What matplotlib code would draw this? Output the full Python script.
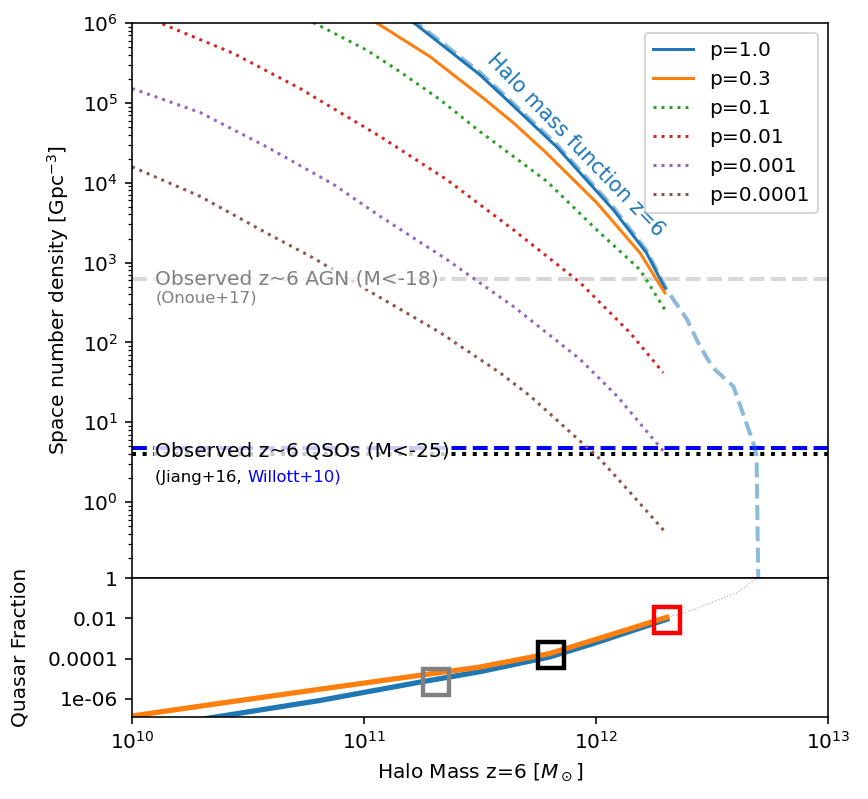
import numpy as np
import matplotlib
matplotlib.use('Agg')
import matplotlib.pyplot as plt
from matplotlib.ticker import NullLocator

# values, log10 units
# top panel: space number density [Gpc^-3] vs halo mass
lm_p1 = [11.20, 11.227, 11.356, 11.5, 11.615, 11.83, 12.075, 12.218, 12.297]
ln_p1 = [6.03, 5.975, 5.68, 5.35, 5.04, 4.45, 3.66, 3.12, 2.68]

lm_p03 = [11.03, 11.069, 11.284, 11.514, 11.644, 11.787, 12.003, 12.19, 12.297]
ln_p03 = [6.04, 5.975, 5.58, 5.06, 4.75, 4.37, 3.75, 3.12, 2.62]

lm_p01 = [10.75, 10.803, 11.012, 11.155, 11.328, 11.5, 11.787, 12.003, 12.19, 12.297]
ln_p01 = [6.05, 5.975, 5.66, 5.39, 5.04, 4.64, 4.02, 3.41, 2.91, 2.41]

lm_p001 = [10.10, 10.142, 10.437, 10.724, 11.069, 11.356, 11.644, 11.931, 12.147, 12.29]
ln_p001 = [6.03, 5.975, 5.62, 5.18, 4.58, 4.04, 3.41, 2.75, 2.12, 1.62]

lm_p0001 = [10.0, 10.293, 10.58, 10.868, 11.069, 11.356, 11.644, 11.931, 12.09, 12.29]
ln_p0001 = [5.18, 4.88, 4.45, 3.98, 3.58, 3.04, 2.45, 1.79, 1.33, 0.64]

lm_p00001 = [10.0, 10.293, 10.58, 10.78, 11.012, 11.33, 11.586, 11.716, 12.017, 12.16, 12.297]
ln_p00001 = [4.20, 3.83, 3.37, 3.06, 2.66, 2.12, 1.62, 1.33, 0.54, 0.08, -0.37]

# halo mass function z=6
lm_hmf = [11.20, 11.227, 11.356, 11.5, 11.615, 11.83, 12.075, 12.218, 12.305,
          12.392, 12.448, 12.505, 12.592, 12.678, 12.692, 12.699, 12.70]
ln_hmf = [6.06, 6.0, 5.71, 5.38, 5.07, 4.48, 3.69, 3.15, 2.66,
          2.29, 1.95, 1.68, 1.45, 0.745, 0.58, -0.88, -1.2]

n_agn = 630.0     # Onoue+17
n_qso_w = 4.73    # Willott+10
n_qso_j = 3.98    # Jiang+16

# bottom panel: quasar fraction
lm_f1 = [10.25, 10.35, 10.81, 11.241, 11.5, 11.80, 11.99, 12.305]
lf_f1 = [-7.1, -6.92, -6.08, -5.17, -4.65, -3.92, -3.25, -2.05]
lm_f03 = [10.0, 10.379, 10.81, 11.241, 11.5, 11.80, 11.99, 12.305]
lf_f03 = [-6.85, -6.22, -5.52, -4.83, -4.42, -3.75, -3.08, -1.95]
lm_ratio = [12.305, 12.42, 12.563, 12.606, 12.685, 12.70]
lf_ratio = [-1.95, -1.58, -0.92, -0.75, -0.08, 0.02]

# marked points
lm_sq = [11.31, 11.805, 12.305]
lf_sq = [-5.17, -3.83, -2.08]
sq_colors = ['gray', 'black', 'red']

labels = ['p=1.0', 'p=0.3', 'p=0.1', 'p=0.01', 'p=0.001', 'p=0.0001']


def p10(a):
    return 10 ** np.array(a)


dpi = 144.67
fig = plt.figure(figsize=(868 / dpi, 799 / dpi), dpi=dpi)
ax = fig.add_axes([132 / 868, 1 - 578 / 799, 696 / 868, 555 / 799])
ax2 = fig.add_axes([132 / 868, 1 - 717 / 799, 696 / 868, 139 / 799])

ax.plot(p10(lm_hmf), p10(ln_hmf), '--', color='C0', alpha=0.5, lw=2, zorder=1)
ax.plot(p10(lm_p1), p10(ln_p1), '-', color='C0', label=labels[0])
ax.plot(p10(lm_p03), p10(ln_p03), '-', color='C1', label=labels[1])
ax.plot(p10(lm_p01), p10(ln_p01), ':', color='C2', label=labels[2])
ax.plot(p10(lm_p001), p10(ln_p001), ':', color='C3', label=labels[3])
ax.plot(p10(lm_p0001), p10(ln_p0001), ':', color='C4', label=labels[4])
ax.plot(p10(lm_p00001), p10(ln_p00001), ':', color='C5', label=labels[5])

ax.axhline(n_agn, ls='--', color='gray', alpha=0.3, lw=2, zorder=0)
ax.axhline(n_qso_w, ls='--', color='b', lw=2, zorder=0)
ax.axhline(n_qso_j, ls=':', color='k', lw=2, zorder=0)

ax.text(1.26e10, n_agn, 'Observed z~6 AGN (M<-18)', color='gray', va='center',
        bbox=dict(facecolor='white', edgecolor='none', alpha=0.7, pad=0.5))
ax.text(1.26e10, 365, '(Onoue+17)', color='gray', fontsize=8.2, va='center')
ax.text(1.26e10, 4.34, 'Observed z~6 QSOs (M<-25)', color='k', va='center',
        bbox=dict(facecolor='white', edgecolor='none', alpha=0.8, pad=0.5))
t = ax.text(1.26e10, 2.05, '(Jiang+16, ', color='k', fontsize=8.2, va='center')
ax.annotate('Willott+10)', xy=(1, 0), xycoords=t, va='bottom', ha='left',
            color='b', fontsize=8.2)
ax.text(10 ** 11.91, 10 ** 4.47, 'Halo mass function z=6', color='C0',
        fontsize=10.3, rotation=-46, rotation_mode='anchor',
        ha='center', va='center')

ax.set_xscale('log')
ax.set_yscale('log')
ax.set_xlim(1e10, 1e13)
ax.set_ylim(10 ** -0.95, 1e6)
ax.set_xticks([])
ax.xaxis.set_minor_locator(NullLocator())
ax.set_ylabel('Space number density [Gpc$^{-3}$]', labelpad=5.5)
ax.legend(loc='upper right')

ax2.plot(p10(lm_ratio), p10(lf_ratio), ':', color='gray', lw=0.6, alpha=0.6)
ax2.plot(p10(lm_f1), p10(lf_f1), '-', color='C0', lw=2.6)
ax2.plot(p10(lm_f03), p10(lf_f03), '-', color='C1', lw=2.6)
for m, f, c in zip(lm_sq, lf_sq, sq_colors):
    ax2.plot(10 ** m, 10 ** f, 's', mfc='none', mec=c, ms=13, mew=2.2)

ax2.set_xscale('log')
ax2.set_yscale('log')
ax2.set_xlim(1e10, 1e13)
ax2.set_ylim(10 ** -6.9, 1)
ax2.set_xticks([1e10, 1e11, 1e12, 1e13])
ax2.xaxis.set_minor_locator(NullLocator())
ax2.set_yticks([1, 1e-2, 1e-4, 1e-6])
ax2.set_yticklabels(['1', '0.01', '0.0001', '1e-06'])
ax2.yaxis.set_minor_locator(NullLocator())
ax2.set_ylabel('Quasar Fraction', labelpad=9)
ax2.set_xlabel(r'Halo Mass z=6 [$M_\odot$]')

fig.savefig('out.png', dpi=dpi)
